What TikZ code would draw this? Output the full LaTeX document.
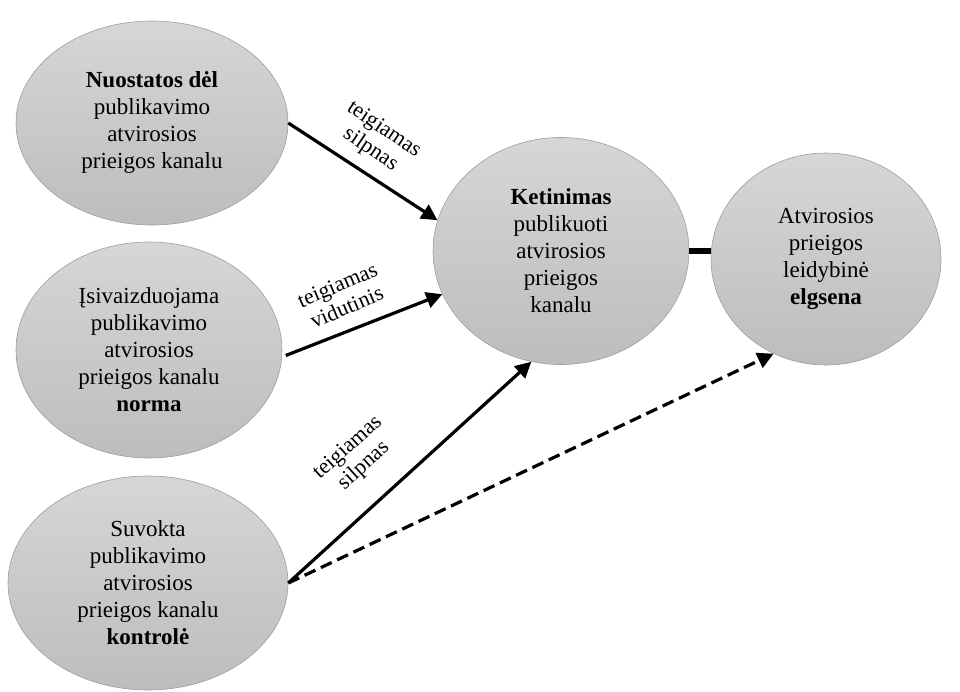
\documentclass[tikz,border=0pt]{standalone}
\usepackage{fontspec}
\setmainfont{Liberation Serif}
\usetikzlibrary{shapes.geometric,arrows.meta}
\begin{document}
\begin{tikzpicture}[x=1pt,y=-1pt,
  bub/.style={ellipse, draw=black!38, line width=0.6pt, top color=black!16, bottom color=black!26, inner sep=0pt, align=center, font=\fontsize{23}{27}\selectfont},
  arr/.style={line width=3.2pt, -{Triangle[length=16pt,width=16pt]}},
  dsh/.style={line width=3.2pt, dash pattern=on 12pt off 6pt, -{Triangle[length=16pt,width=16pt]}},
  lab/.style={align=center, font=\fontsize{22}{24}\selectfont, inner sep=0pt}]
\useasboundingbox (0,0) rectangle (960,692);
\node[bub, minimum width=272pt, minimum height=204pt] (e1) at (152,123) {\textbf{Nuostatos dėl}\\publikavimo\\atvirosios\\prieigos kanalu};
\node[bub, minimum width=266pt, minimum height=216pt] (e2) at (149,350) {Įsivaizduojama\\publikavimo\\atvirosios\\prieigos kanalu\\\textbf{norma}};
\node[bub, minimum width=280pt, minimum height=214pt] (e3) at (148,583) {Suvokta\\publikavimo\\atvirosios\\prieigos kanalu\\\textbf{kontrolė}};
\node[bub, minimum width=256pt, minimum height=227pt] (k) at (561,251) {\textbf{Ketinimas}\\publikuoti\\atvirosios\\prieigos\\kanalu};
\node[bub, minimum width=230pt, minimum height=212pt] (r) at (826,259) {Atvirosios\\prieigos\\leidybinė\\\textbf{elgsena}};
\draw[arr] (e1.east) -- (k.166);
\draw[arr, shorten <=4pt] (e2.357) -- (k.200);
\draw[arr] (e3.east) -- (k.255);
\draw[dsh] (e3.east) -- (r.241);
\draw[line width=6pt] (k.east) -- (k.east -| r.west);
\node[lab, rotate=-34] (l1) at (377,140) {teigiamas\\silpnas};
\node[lab, rotate=23] (l2) at (342,296) {teigiamas\\vidutinis};
\node[lab, rotate=42] (l3) at (356,457) {teigiamas\\silpnas};
\end{tikzpicture}
\end{document}
